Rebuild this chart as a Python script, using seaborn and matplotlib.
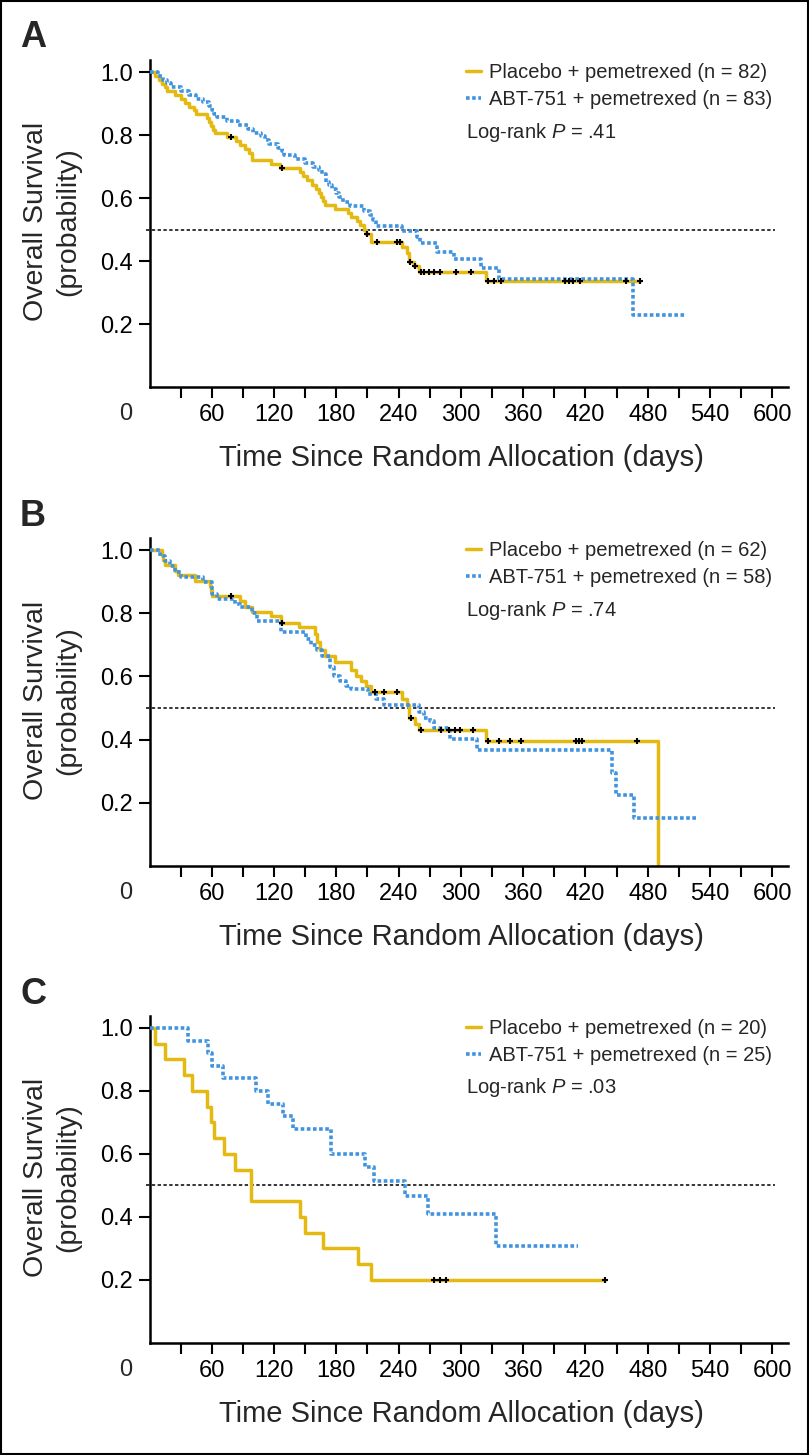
import numpy as np
import matplotlib
matplotlib.use("Agg")
import matplotlib.pyplot as plt
import matplotlib.transforms as mtransforms
from matplotlib.patches import Rectangle
import seaborn as sns

# ---- Panel A: all patients ----
a_pl_t = [0, 5, 9, 12, 15, 17, 25, 30, 34, 38, 43, 45, 55, 57, 59, 61, 63, 75, 83, 87,
          92, 96, 99, 117, 126, 145, 148, 152, 157, 160, 163, 165, 167, 169, 179, 191, 194, 200, 203, 207,
          209, 213, 243, 248, 250, 255, 260, 324, 473]
a_pl_s = [1.0, .988, .976, .963, .951, .939, .927, .915, .902, .89, .878, .866, .854, .841, .829, .817, .805, .793, .78, .768,
          .756, .744, .72, .708, .695, .682, .669, .656, .643, .63, .617, .604, .591, .578, .565, .552, .539, .526, .513, .50,
          .487, .46, .445, .424, .398, .385, .366, .337, .337]
a_pl_c = [79, 128, 210, 219, 238, 241, 251, 256, 262, 264, 269, 274, 280, 295, 310,
          326, 332, 339, 400, 404, 408, 415, 459, 473]
a_ab_t = [0, 8, 13, 17, 21, 30, 38, 45, 52, 57, 60, 62, 65, 75, 85, 95, 100, 107, 111, 115,
          124, 128, 130, 140, 150, 158, 163, 166, 170, 173, 176, 180, 183, 186, 193, 207, 212, 215, 218, 243,
          258, 261, 277, 293, 319, 337, 466, 517]
a_ab_s = [1.0, .988, .976, .964, .952, .94, .928, .916, .904, .892, .88, .868, .856, .844, .832, .82, .808, .796, .784, .772,
          .76, .748, .736, .724, .712, .70, .688, .676, .652, .64, .628, .616, .604, .588, .575, .56, .545, .53, .511, .496,
          .477, .457, .43, .406, .378, .343, .228, .228]

# ---- Panel B ----
b_pl_t = [0, 12, 13, 15, 25, 27, 44, 58, 59, 60, 87, 92, 99, 117, 127, 144, 159, 161, 164, 169,
          179, 194, 199, 204, 209, 213, 243, 248, 250, 256, 260, 324, 490]
b_pl_s = [1.0, .984, .968, .952, .935, .92, .903, .887, .871, .855, .84, .82, .805, .79, .77, .755, .735, .71, .685, .665,
          .645, .62, .60, .585, .57, .55, .53, .51, .47, .45, .43, .397, 0.0]
b_pl_c = [79, 128, 217, 226, 238, 252, 262, 281, 289, 294, 299, 312,
          326, 337, 347, 358, 411, 414, 417, 470]
b_ab_t = [0, 10, 15, 20, 25, 30, 52, 60, 65, 82, 87, 99, 104, 127, 151, 156, 161, 166, 174, 178,
          184, 189, 194, 211, 218, 226, 260, 264, 270, 274, 290, 316, 446, 449, 467, 527]
b_ab_s = [1.0, .98, .965, .95, .93, .915, .90, .86, .845, .83, .82, .80, .775, .74, .72, .70, .685, .665, .63, .60,
          .585, .57, .56, .545, .53, .51, .486, .47, .458, .437, .403, .368, .295, .225, .152, .152]

# ---- Panel C ----
c_pl_t = [0, 5, 15, 33, 41, 55, 59, 62, 72, 82, 98, 145, 150, 167, 201, 213, 439]
c_pl_s = [1.0, .95, .90, .85, .80, .75, .70, .65, .60, .55, .45, .40, .35, .30, .25, .20, .20]
c_pl_c = [274, 280, 286, 439]
c_ab_t = [0, 37, 56, 60, 71, 103, 114, 129, 138, 175, 208, 216, 246, 268, 334, 413]
c_ab_s = [1.0, .96, .92, .88, .84, .80, .76, .72, .68, .60, .56, .515, .467, .41, .307, .307]

letters = ["A", "B", "C"]
n_placebo = [82, 62, 20]
n_abt = [83, 58, 25]
p_values = [".41", ".74", ".03"]
x_ticks = [60, 120, 180, 240, 300, 360, 420, 480, 540, 600]
y_ticks = [0.2, 0.4, 0.6, 0.8, 1.0]

YELLOW = "#E4BA12"
BLUE = "#4094DF"

sns.set_theme(style="ticks")
plt.rcParams["font.family"] = ["Liberation Sans Narrow", "Liberation Sans", "DejaVu Sans"]
plt.rcParams["mathtext.fontset"] = "custom"
plt.rcParams["mathtext.rm"] = "Liberation Sans"
plt.rcParams["mathtext.it"] = "Liberation Sans:italic"

fig = plt.figure(figsize=(8.09, 14.55), dpi=100)
boxes = [(0.1848, 0.734, 0.789, 0.2247),
         (0.1848, 0.4048, 0.789, 0.2254),
         (0.1848, 0.0770, 0.789, 0.2247)]
letter_y = [0.9739, 0.6449, 0.3162]

curves = [(a_pl_t, a_pl_s, a_pl_c, a_ab_t, a_ab_s),
          (b_pl_t, b_pl_s, b_pl_c, b_ab_t, b_ab_s),
          (c_pl_t, c_pl_s, c_pl_c, c_ab_t, c_ab_s)]

for i, (pl_t, pl_s, pl_c, ab_t, ab_s) in enumerate(curves):
    ax = fig.add_axes(boxes[i])

    # median reference line
    ax.hlines(0.5, -3, 603, colors="black", linewidth=1.1,
              linestyles=(0, (2.2, 1.6)), clip_on=False, zorder=1)

    sns.lineplot(x=pl_t, y=pl_s, ax=ax, drawstyle="steps-post", estimator=None, sort=False,
                 color=YELLOW, linewidth=2.5, label=f"Placebo + pemetrexed (n = {n_placebo[i]})",
                 zorder=2)
    sns.lineplot(x=ab_t, y=ab_s, ax=ax, drawstyle="steps-post", estimator=None, sort=False,
                 color=BLUE, linewidth=2.6, linestyle=(0, (1.0, 0.7)),
                 label=f"ABT-751 + pemetrexed (n = {n_abt[i]})", zorder=3)

    # censoring marks sit on the placebo curve
    idx = np.searchsorted(pl_t, pl_c, side="right") - 1
    ax.plot(pl_c, np.array(pl_s)[idx], "+", color="black", markersize=5,
            markeredgewidth=1.5, zorder=4, clip_on=False)

    ax.set_xlim(0, 615)
    ax.set_ylim(0, 1.038)
    ax.set_xticks(x_ticks)
    ax.set_xticks([t - 30 for t in x_ticks], minor=True)
    ax.set_yticks(y_ticks)
    ax.set_yticklabels([f"{v:.1f}" for v in y_ticks])
    ax.tick_params(which="both", direction="out", length=8, width=1.5,
                   color="black", labelsize=17, labelcolor="black")
    ax.tick_params(axis="x", pad=4)
    ax.tick_params(axis="y", pad=4)
    for side in ["top", "right"]:
        ax.spines[side].set_visible(False)
    for side in ["left", "bottom"]:
        ax.spines[side].set_linewidth(1.8)
        ax.spines[side].set_color("black")

    trans = mtransforms.blended_transform_factory(ax.transData, ax.transAxes)
    ax.text(-22.6, -0.0825, "0", transform=trans, fontsize=17, ha="center", va="center")

    ax.set_xlabel("Time Since Random Allocation (days)", fontsize=21)
    ax.xaxis.set_label_coords(0.488, -0.217)
    ax.xaxis.label.set_va("center")
    ax.set_ylabel("Overall Survival\n(probability)", fontsize=20.5,
                  family=["Liberation Sans", "DejaVu Sans"], linespacing=1.3)
    ax.yaxis.set_label_coords(-0.153, 0.505)
    ax.yaxis.label.set_va("center")

    ax.legend(loc="upper left", bbox_to_anchor=(0.4957, 0.99), frameon=False, fontsize=14.5,
              handlelength=0.75, handletextpad=0.4, labelspacing=0.4,
              borderpad=0, borderaxespad=0)
    ax.text(0.496, 0.78, f"Log-rank $P$ = {p_values[i]}", transform=ax.transAxes,
            fontsize=14.5, ha="left", va="center")

    fig.text(0.0408, letter_y[i], letters[i], fontsize=26, weight="bold",
             family=["Liberation Sans", "DejaVu Sans"], ha="center", va="center")

fig.add_artist(Rectangle((0.0015, 0.0008), 0.997, 0.9985, transform=fig.transFigure,
                         fill=False, linewidth=1.5, edgecolor="black"))

fig.savefig("out.png", dpi=100)
